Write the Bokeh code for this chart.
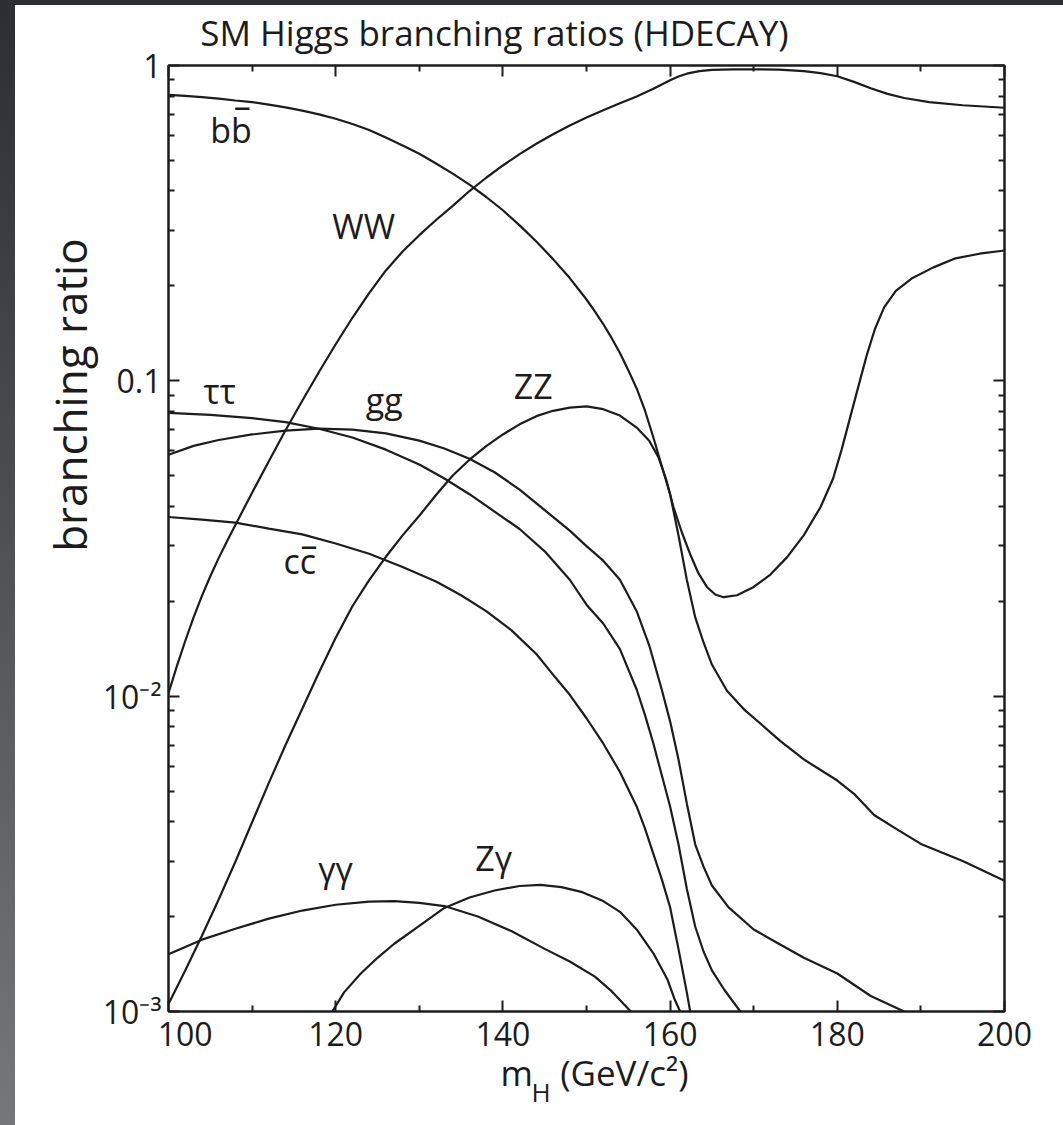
from bokeh.plotting import figure
from bokeh.models import (Range1d, FixedTicker, LinearAxis, LogAxis, Label, Div, Title)
from bokeh.layouts import column, row
from bokeh.embed import file_html
from bokeh.resources import INLINE

FONT = "Open Sans"
INK = "#1c1c1c"

# ---------------- data ----------------
bb_m = [100, 102, 104, 106, 108, 110, 112, 114, 116, 118, 120, 122, 124, 126, 128, 130, 132, 134, 136,
        138, 140, 142, 144, 146, 148, 150, 151, 152, 153, 154, 155, 156, 157, 158, 159, 160,
        161, 162, 163, 164, 165, 166.8, 168.8, 171, 173.2, 176, 180, 182, 184.4, 187, 190, 195, 200]
bb_br = [0.807, 0.8006, 0.7943, 0.7852, 0.7745, 0.7656, 0.7516, 0.7362, 0.7194, 0.6998, 0.6776,
         0.6524, 0.6245, 0.5907, 0.5577, 0.5248, 0.4887, 0.4539, 0.4188, 0.3828, 0.3475, 0.3112,
         0.2767, 0.2432, 0.2118, 0.1811, 0.1660, 0.1514, 0.1368, 0.1225, 0.1081, 0.0946, 0.0804,
         0.0661, 0.0537, 0.0437, 0.0324, 0.0234, 0.0178, 0.0148, 0.0126, 0.0104, 0.0091,
         0.0081, 0.0072, 0.0063, 0.0054, 0.0049, 0.0042, 0.0038, 0.0034, 0.0030, 0.0026]

ww_m = [100, 101, 102, 103, 104, 105, 106, 107, 108, 110, 112, 114, 116, 118, 120, 122, 124, 126, 128,
        130, 132, 134, 136, 138, 140, 142, 144, 146, 148, 150, 152, 154, 156, 158, 159, 160, 161, 162,
        163.5, 165, 167.5, 170, 173, 176, 178, 180, 182, 184, 186, 188, 191, 195, 200]
ww_br = [0.01023, 0.01245, 0.01496, 0.01778, 0.0208, 0.0240, 0.0274, 0.0310, 0.0349, 0.0442, 0.0556,
         0.0697, 0.0865, 0.1067, 0.1306, 0.1585, 0.1897, 0.2239, 0.2570, 0.2897, 0.3236, 0.3589,
         0.3999, 0.4406, 0.4819, 0.5236, 0.5649, 0.6053, 0.6457, 0.6839, 0.7211, 0.7586, 0.7980,
         0.8433, 0.8710, 0.8974, 0.9226, 0.9419, 0.9594, 0.9683, 0.9727, 0.9727, 0.9705, 0.9594,
         0.9462, 0.9247, 0.8872, 0.8472, 0.8128, 0.7889, 0.7656, 0.7482, 0.7345]

zz_m = [100, 102, 104, 106, 108, 110, 112, 114, 116, 118, 120, 122, 124, 126, 128, 130, 132, 134,
        136, 138, 140, 142, 144, 146, 148, 150, 152, 154, 156, 157.5, 158.6, 159.5, 160.4, 161.4,
        162.4, 163.4, 164.4, 165.4, 166.4, 168, 170, 172, 174, 176, 178, 179.5, 180.5, 181.5, 182.5,
        183.5, 184.5, 185.6, 187, 189, 191.5, 194, 197, 200]
zz_br = [0.001057, 0.001349, 0.001738, 0.002265, 0.002985, 0.003981, 0.005309, 0.006998, 0.00912,
         0.01189, 0.01531, 0.01928, 0.02333, 0.02767, 0.03236, 0.03733, 0.04345, 0.05012, 0.05623,
         0.06209, 0.06761, 0.07278, 0.07727, 0.08035, 0.08222, 0.08299, 0.0813, 0.0776, 0.0711,
         0.0646, 0.0573, 0.049, 0.0398, 0.0331, 0.0282, 0.0245, 0.0222, 0.021, 0.0206, 0.0209,
         0.0222, 0.0243, 0.0276, 0.0324, 0.0398, 0.049, 0.0603, 0.0759, 0.0955, 0.12, 0.146, 0.171,
         0.193, 0.212, 0.229, 0.244, 0.253, 0.259]

tautau_m = [100, 105, 110, 114, 118, 122, 126, 130, 133, 136, 139, 142, 145, 148, 150, 152, 154, 156,
            157, 158, 159, 160, 161, 162, 163, 164, 165, 166.5, 168.4]
tautau_br = [0.0791, 0.0780, 0.0762, 0.0740, 0.0705, 0.0661, 0.0605, 0.0543, 0.0490, 0.0437, 0.0385,
             0.0339, 0.0288, 0.0234, 0.0195, 0.0170, 0.0141, 0.0105, 0.00871, 0.00708, 0.00562,
             0.00447, 0.00339, 0.00245, 0.00186, 0.00155, 0.00135, 0.00117, 0.00100]

gg_m = [100, 103, 106, 110, 114, 118, 122, 126, 130, 133, 136, 139, 142, 145, 148, 150, 152, 154, 156,
        157.5, 159, 160, 161, 162, 163, 164, 165, 167, 170, 173, 176, 180, 184, 188]
gg_br = [0.0583, 0.0622, 0.0649, 0.0676, 0.0695, 0.0705, 0.0700, 0.0681, 0.0646, 0.0610, 0.0566,
         0.0513, 0.0452, 0.0389, 0.0335, 0.0299, 0.0269, 0.0234, 0.0186, 0.0145, 0.0105, 0.00832,
         0.00631, 0.00457, 0.00339, 0.00288, 0.00251, 0.00214, 0.00182, 0.00164, 0.00148, 0.00132,
         0.00112, 0.00100]

cc_m = [100, 104, 108, 112, 116, 120, 124, 128, 132, 135, 138, 141, 144, 146, 148, 150, 152, 154, 156,
        157, 158, 159, 160, 161, 162, 162.4]
cc_br = [0.0370, 0.0363, 0.0355, 0.0340, 0.0326, 0.0305, 0.0283, 0.0257, 0.0231, 0.0209, 0.0186,
         0.0162, 0.0136, 0.0117, 0.0101, 0.00851, 0.00708, 0.00575, 0.00447, 0.00380, 0.00316,
         0.00263, 0.00214, 0.00158, 0.00115, 0.00100]

gamgam_m = [100, 104, 108, 112, 116, 120, 124, 127, 130, 133, 137, 141, 145, 148, 151, 153, 155.3]
gamgam_br = [0.00152, 0.00169, 0.00183, 0.00197, 0.00209, 0.00218, 0.00223, 0.00224, 0.00221,
             0.00216, 0.00200, 0.00180, 0.00158, 0.00144, 0.00129, 0.00116, 0.00100]

zgam_m = [119.6, 121, 123, 125, 127, 130, 133, 136, 139, 142, 144.5, 147, 149.5, 152, 154, 156, 158,
          159.7, 160.5, 161.2]
zgam_br = [0.00100, 0.00115, 0.00132, 0.00148, 0.00164, 0.00187, 0.00213, 0.00230, 0.00242, 0.00250,
           0.00252, 0.00248, 0.00239, 0.00224, 0.00207, 0.00182, 0.00153, 0.00126, 0.00110, 0.00100]

x_major = [100, 120, 140, 160, 180, 200]
x_minor = [110, 130, 150, 170, 190]
y_major = [0.001, 0.01, 0.1, 1.0]
y_minor = [k * 10.0 ** e for e in (-3, -2, -1) for k in range(2, 10)]
y_tick_labels = ["10\u207b\u00b3", "10\u207b\u00b2", "0.1", "1"]

TITLE = "SM Higgs branching ratios (HDECAY)"

# ---------------- figure ----------------
p = figure(width=1048, height=1120, x_range=Range1d(100, 200), y_range=Range1d(1e-3, 1),
           y_axis_type="log", output_backend="svg", toolbar_location=None,
           min_border_left=153, min_border_right=59, min_border_top=60, min_border_bottom=114,
           background_fill_color="white", border_fill_color="white")
p.grid.visible = False
p.outline_line_color = INK
p.outline_line_width = 2
p.title.text = ""


def style_axis(ax, show_labels):
    ax.axis_line_color = INK
    ax.axis_line_width = 2
    ax.major_tick_line_color = INK
    ax.major_tick_line_width = 2
    ax.minor_tick_line_color = INK
    ax.minor_tick_line_width = 2
    ax.major_tick_in = 11
    ax.major_tick_out = 0
    ax.minor_tick_in = 6
    ax.minor_tick_out = 0
    ax.major_label_text_font = FONT
    ax.major_label_text_color = INK
    ax.major_label_text_font_size = "32px" if show_labels else "1px"
    if not show_labels:
        ax.major_label_text_alpha = 0


# bottom axis
xb = p.xaxis[0]
xb.ticker = FixedTicker(ticks=x_major, minor_ticks=x_minor)
style_axis(xb, True)
xb.major_label_standoff = 0
xb.major_label_overrides = {x_major[0]: "\u00a0\u00a0\u00a0\u00a0" + str(x_major[0])}

# left axis
yl = p.yaxis[0]
yl.ticker = FixedTicker(ticks=y_major, minor_ticks=y_minor)
style_axis(yl, True)
yl.major_label_standoff = 7
yl.major_label_overrides = dict(zip(y_major, y_tick_labels))
yl.axis_label = "\u2003" * 6 + "\u00a0\u00a0" + "branching ratio"
yl.axis_label_text_font = FONT
yl.axis_label_text_font_size = "44px"
yl.axis_label_text_font_style = "normal"
yl.axis_label_text_color = INK
yl.axis_label_standoff = 0

# mirrored top axis (ticks only) carrying the chart title
xa = LinearAxis(ticker=FixedTicker(ticks=x_major, minor_ticks=x_minor))
style_axis(xa, False)
xa.major_label_standoff = 0
xa.axis_label = TITLE + "\u2003" * 5 + "\u00a0"
xa.axis_label_text_font = FONT
xa.axis_label_text_font_size = "35px"
xa.axis_label_text_font_style = "normal"
xa.axis_label_text_color = INK
xa.axis_label_standoff = 10
p.add_layout(xa, "above")

# mirrored right axis (ticks only)
yr = LogAxis(ticker=FixedTicker(ticks=y_major, minor_ticks=y_minor))
style_axis(yr, False)
yr.major_label_standoff = 0
p.add_layout(yr, "right")

# x axis title: "m_H (GeV/c^2)" built from two titles (main line + subscript)
t_main = Title(text="m\u00a0\u00a0\u00a0(GeV/c\u00b2)", text_font=FONT, text_font_size="35px",
               text_font_style="normal", text_color=INK, align="left", offset=332, standoff=-22)
p.add_layout(t_main, "below")
t_sub = Title(text="H", text_font=FONT, text_font_size="26px", text_font_style="normal",
              text_color=INK, align="left", offset=363, standoff=-26)
p.add_layout(t_sub, "below")

# ---------------- curves ----------------
for m, br in [(bb_m, bb_br), (ww_m, ww_br), (zz_m, zz_br), (tautau_m, tautau_br), (gg_m, gg_br),
              (cc_m, cc_br), (gamgam_m, gamgam_br), (zgam_m, zgam_br)]:
    p.line(m, br, line_color=INK, line_width=2.2)


def dlab(x, y, text, size, yo=0):
    p.add_layout(Label(x=x, y=y, text=text, text_font=FONT, text_font_size=size,
                       text_color=INK, text_align="left", text_baseline="alphabetic",
                       y_offset=yo + 12))


# curve labels
dlab(105.0, 0.570, "bb", "34px")
dlab(107.8, 0.570, "\u2013", "34px", yo=25)
dlab(119.6, 0.283, "WW", "34px")
dlab(104.2, 0.0853, "\u03c4\u03c4", "34px")
dlab(123.6, 0.0787, "gg", "34px", yo=2)
dlab(141.3, 0.0879, "ZZ", "34px")
dlab(113.76, 0.0245, "cc", "34px")
dlab(115.8, 0.0245, "\u2013", "34px", yo=17)
dlab(117.9, 0.0026, "\u03b3\u03b3", "34px")
dlab(136.7, 0.00282, "Z\u03b3", "34px")

top = Div(width=1063, height=5, margin=0, styles={"background-color": "#2b2e33"})
left = Div(width=15, height=1120, margin=0,
           styles={"background": "linear-gradient(#2b2e33, #747878)"})
layout = column(top, row(left, p, spacing=0), spacing=0)

open("out.html", "w").write(file_html(layout, INLINE))
